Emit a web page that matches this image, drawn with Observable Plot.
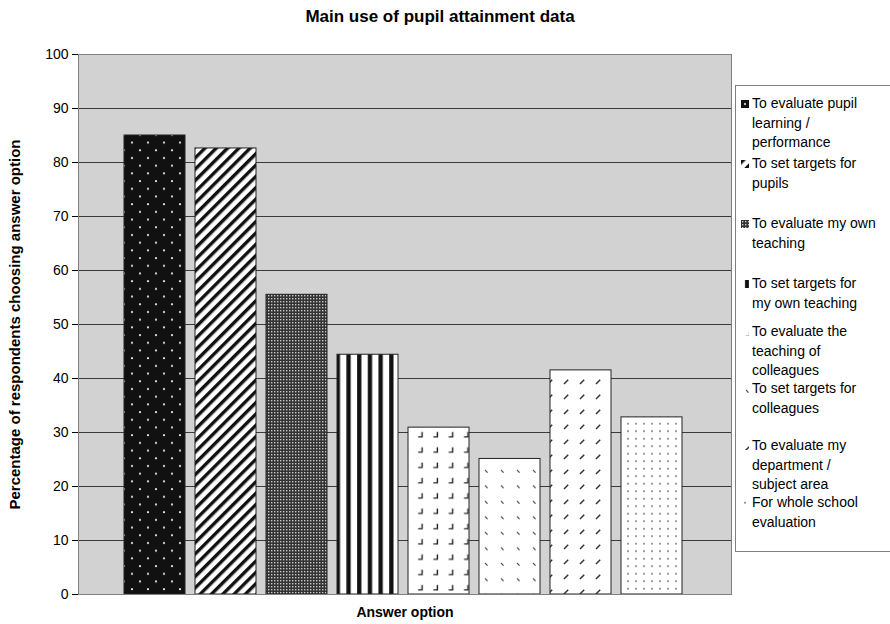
<!DOCTYPE html>
<html>
<head>
<meta charset="utf-8">
<script src="https://cdn.jsdelivr.net/npm/d3@7"></script>
<script src="https://cdn.jsdelivr.net/npm/@observablehq/plot@0.6"></script>
<style>
  html, body { margin: 0; padding: 0; background: #fff; overflow: hidden; }
  body { font-family: "Liberation Sans", Arial, sans-serif; color: #000; }
  #wrap { position: relative; width: 890px; height: 624px; }
  #title { position: absolute; left: 0; top: 7px; width: 880px; text-align: center;
           font-weight: bold; font-size: 17px; }
  #chart { position: absolute; left: 0; top: 0; }
  #legend { position: absolute; left: 735px; top: 85px; width: 170px; height: 467px;
            border: 1px solid #808080; background: #fff; box-sizing: border-box; }
  .item { position: absolute; left: 0; font-size: 14px; line-height: 19.5px; white-space: nowrap; }
  .item svg { position: absolute; left: 5px; top: 6px; }
  .item span { position: absolute; left: 16px; top: 0; }
</style>
</head>
<body>
<!-- fill patterns shared by the bars and the legend swatches -->
<svg width="0" height="0" style="position:absolute">
  <defs>
    <pattern id="pat0" width="16" height="15.4" patternUnits="userSpaceOnUse">
      <rect width="16" height="15.4" fill="#111"/>
      <circle cx="4" cy="4" r="1.1" fill="#e6e6e6"/>
      <circle cx="12" cy="11.7" r="1.1" fill="#e6e6e6"/>
    </pattern>
    <pattern id="pat1" width="8" height="8" patternUnits="userSpaceOnUse" patternTransform="rotate(45)">
      <rect width="8" height="8" fill="#fff"/>
      <rect width="3.4" height="8" fill="#111"/>
    </pattern>
    <pattern id="pat2" width="3" height="3" patternUnits="userSpaceOnUse">
      <rect width="3" height="3" fill="#333"/>
      <rect x="1" y="1" width="1.4" height="1.4" fill="#c8c8c8"/>
    </pattern>
    <pattern id="pat3" width="10.7" height="10" patternUnits="userSpaceOnUse">
      <rect width="10.7" height="10" fill="#fff"/>
      <rect x="4" width="4.3" height="10" fill="#111"/>
    </pattern>
    <pattern id="pat4" width="15.3" height="15.3" patternUnits="userSpaceOnUse">
      <rect width="15.3" height="15.3" fill="#fff"/>
      <path d="M9,3.5 V8.5 H5" stroke="#222" stroke-width="1.4" fill="none"/>
    </pattern>
    <pattern id="pat5" width="16" height="15.5" patternUnits="userSpaceOnUse">
      <rect width="16" height="15.5" fill="#fff"/>
      <path d="M5,5 l2.6,2.6" stroke="#444" stroke-width="1.2"/>
    </pattern>
    <pattern id="pat6" width="16" height="15" patternUnits="userSpaceOnUse">
      <rect width="16" height="15" fill="#fff"/>
      <path d="M4,9 l4.2,-4.2" stroke="#333" stroke-width="1.5"/>
    </pattern>
    <pattern id="pat7" width="8" height="7.5" patternUnits="userSpaceOnUse">
      <rect width="8" height="7.5" fill="#fff"/>
      <circle cx="4" cy="3.7" r="0.85" fill="#555"/>
    </pattern>
  </defs>
</svg>

<div id="wrap">
  <div id="chart"></div>
  <div id="title">Main use of pupil attainment data</div>
  <div id="legend"></div>
</div>

<script>
// Answer options, in bar order
const options = [
  "To evaluate pupil learning / performance",
  "To set targets for pupils",
  "To evaluate my own teaching",
  "To set targets for my own teaching",
  "To evaluate the teaching of colleagues",
  "To set targets for colleagues",
  "To evaluate my department / subject area",
  "For whole school evaluation"
];

// Percentage of respondents choosing each option
const percentages = [85.0, 82.6, 55.5, 44.4, 30.9, 25.1, 41.5, 32.8];

// Wrapped legend text for each option
const legendLines = [
  ["To evaluate pupil", "learning /", "performance"],
  ["To set targets for", "pupils"],
  ["To evaluate my own", "teaching"],
  ["To set targets for", "my own teaching"],
  ["To evaluate the", "teaching of", "colleagues"],
  ["To set targets for", "colleagues"],
  ["To evaluate my", "department /", "subject area"],
  ["For whole school", "evaluation"]
];

// Vertical position of each legend entry inside the legend box
const legendTops = [8, 68, 128, 188, 236, 293, 350, 407];

const yTicks = [0, 10, 20, 30, 40, 50, 60, 70, 80, 90, 100];
const patternFills = ["url(#pat0)", "url(#pat1)", "url(#pat2)", "url(#pat3)",
                      "url(#pat4)", "url(#pat5)", "url(#pat6)", "url(#pat7)"];

const yTitle = "Percentage of respondents choosing answer option";
const xTitle = "Answer option";

const rows = options.map((option, i) => ({option, value: percentages[i]}));

const chart = Plot.plot({
  width: 890,
  height: 624,
  marginTop: 54,
  marginBottom: 30,
  marginLeft: 78,
  marginRight: 159,
  style: {fontFamily: "'Liberation Sans', Arial, sans-serif", fontSize: "14px", color: "#000", background: "transparent"},
  x: {type: "band", domain: options, range: [117, 688], paddingInner: 0.146, paddingOuter: 0.07, axis: null},
  y: {domain: [0, 100], ticks: yTicks, tickSize: 6, tickPadding: 4, label: null},
  color: {type: "ordinal", domain: options, range: patternFills},
  marks: [
    Plot.frame({fill: "#d2d2d2", stroke: null}),
    Plot.ruleY(yTicks.filter(t => t > 0 && t < 100), {stroke: "#3a3a3a", strokeWidth: 1}),
    Plot.barY(rows, {x: "option", y: "value", fill: "option", stroke: "#222", strokeWidth: 1}),
    Plot.frame({stroke: "#808080"}),
    Plot.text([yTitle], {frameAnchor: "left", textAnchor: "middle", dx: -63, rotate: -90, fontWeight: "bold", fontSize: 15}),
    Plot.text([xTitle], {frameAnchor: "bottom", dy: 22, fontWeight: "bold", fontSize: 14})
  ]
});
document.getElementById("chart").appendChild(chart);

// Legend: pattern swatch plus wrapped label for each option
const legend = d3.select("#legend");
options.forEach((option, i) => {
  const item = legend.append("div").attr("class", "item").style("top", legendTops[i] + "px");
  item.append("svg").attr("width", 8).attr("height", 8)
    .append("rect").attr("width", 8).attr("height", 8).attr("fill", patternFills[i]);
  item.append("span").html(legendLines[i].join("<br>"));
});
</script>
</body>
</html>
